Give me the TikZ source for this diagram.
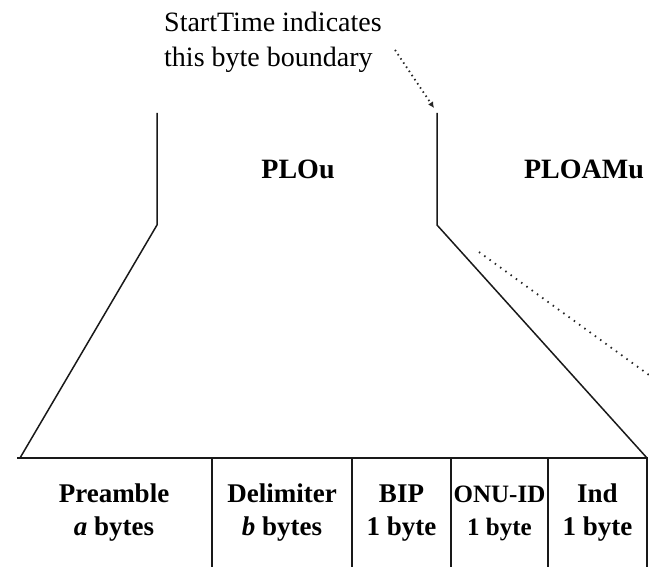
\documentclass[tikz,border=0pt]{standalone}
\usepackage{fontspec}
\setmainfont{Liberation Serif}
\usetikzlibrary{arrows.meta}
\begin{document}
\begin{tikzpicture}[x=1pt,y=-1pt,
  frame/.style={line width=1.5pt, draw=black!90},
  dots/.style={line width=1.8pt, draw=black!85, dash pattern=on 1.5pt off 5pt},
  cell/.style={font=\fontsize{27}{33}\selectfont\bfseries, align=center, inner sep=0pt},
  smallcell/.style={font=\fontsize{25}{33}\selectfont\bfseries, align=center, inner sep=0pt},
  lbl/.style={font=\fontsize{28}{31}\selectfont\bfseries, inner sep=0pt},
  captext/.style={font=\fontsize{28}{35}\selectfont, align=left, inner sep=0pt}]
\useasboundingbox (0,0) rectangle (649,567);
% outline coordinates
\coordinate (lt) at (157,113);
\coordinate (lk) at (157,225);
\coordinate (lb) at (20,458);
\coordinate (rt) at (437,113);
\coordinate (rk) at (437,225);
\coordinate (rb) at (647,458);
\coordinate (tl) at (17,458);
\coordinate (d1t) at (212,458);
\coordinate (d2t) at (352,458);
\coordinate (d3t) at (451,458);
\coordinate (d4t) at (548,458);
\coordinate (d1b) at (212,567);
\coordinate (d2b) at (352,567);
\coordinate (d3b) at (451,567);
\coordinate (d4b) at (548,567);
\coordinate (reb) at (647,567);
\coordinate (ds) at (479,252);
\coordinate (de) at (649,375);
% outline
\draw[frame] (lt) -- (lk) -- (lb);
\draw[frame] (rt) -- (rk) -- (rb);
\draw[frame] (tl) -- (rb) -- (reb);
\draw[frame] (d1t) -- (d1b);
\draw[frame] (d2t) -- (d2b);
\draw[frame] (d3t) -- (d3b);
\draw[frame] (d4t) -- (d4b);
\draw[dots] (ds) -- (de);
% caption
\node[captext, anchor=west] (caption) at (164,42) {StartTime indicates\\this byte boundary};
\coordinate (as) at (395,50);
\coordinate (ae) at (434,108);
\draw[dots, dash pattern=on 1.5pt off 3.5pt, -{Latex[length=6pt,width=6pt]}] (as) -- (ae);
% labels
\node[lbl] (plou) at (298,169) {PLOu};
\node[lbl] (ploamu) at (584,169) {PLOAMu};
% cells
\node[cell] (pre) at (114,513) {Preamble\\\textit{a} bytes};
\node[cell] (del) at (282,513) {Delimiter\\\textit{b} bytes};
\node[cell] (bip) at (401.5,513) {BIP\\1 byte};
\node[smallcell] (onu) at (499.5,513) {ONU-ID\\1 byte};
\node[cell] (ind) at (597.5,513) {Ind\\1 byte};
\end{tikzpicture}
\end{document}
